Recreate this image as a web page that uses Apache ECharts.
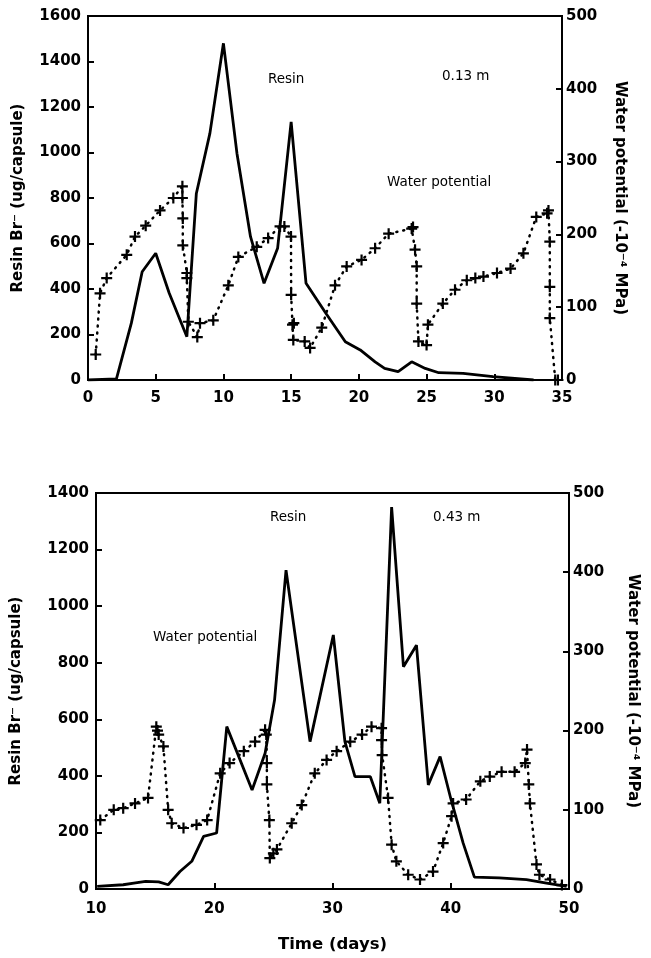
<!DOCTYPE html>
<html>
<head>
<meta charset="utf-8">
<script src="https://cdn.jsdelivr.net/npm/echarts@6/dist/echarts.min.js"></script>
<style>html,body{margin:0;padding:0;background:#fff;}#c{width:651px;height:958px;}</style>
</head>
<body>
<div id="c"></div>
<script>
// ---- Data: top panel (0.13 m) ----
var topResin = [[0,0],[2.1,5],[3.2,250],[4.0,476],[5.0,557],[6.0,381],[7.3,190],[8.0,820],[9.0,1084],[10.0,1480],[11.0,996],[12.0,630],[13.0,425],[14.0,579],[15.0,1135],[16.1,425],[17.6,290],[19.0,168],[20.1,132],[21.2,80],[21.9,51],[22.9,37],[23.9,80],[24.9,51],[25.9,32],[27.7,29],[29.9,15],[32.9,0]];
var topWater = [[0.57,35],[0.89,119],[1.38,140],[2.86,172],[3.47,197],[4.26,212],[5.32,233],[6.3,250],[6.97,266],[6.97,250],[7.0,222],[7.0,185],[7.3,147],[7.3,140],[7.41,80],[8.07,59],[8.27,78],[9.25,82],[10.36,130],[11.1,169],[12.46,183],[13.3,195],[14.18,211],[14.5,211],[14.99,197],[15.0,117],[15.1,76],[15.2,78],[15.16,55],[16.0,53],[16.4,44],[17.26,72],[18.24,130],[19.1,156],[20.2,165],[21.2,181],[22.2,201],[23.9,208],[24.0,210],[24.15,179],[24.27,156],[24.27,105],[24.4,53],[25.0,48],[25.1,76],[26.2,105],[27.1,124],[27.97,137],[28.6,140],[29.2,142],[30.2,147],[31.2,153],[32.15,174],[33.1,224],[33.9,229],[34.0,233],[34.1,190],[34.1,128],[34.1,85],[34.5,0],[34.7,0]];
// ---- Data: bottom panel (0.43 m) ----
var botResin = [[10.1,9],[12.3,15],[13.2,21],[14.2,27],[15.3,25],[16.1,15],[17.1,62],[18.1,98],[19.1,186],[20.2,198],[21.06,574],[23.2,350],[24.3,480],[25.1,668],[26.07,1127],[28.1,521],[30.07,898],[31.05,521],[31.9,397],[33.2,397],[34.0,303],[35.0,1350],[36.0,786],[37.1,862],[38.1,368],[39.1,468],[40.0,320],[41.05,162],[42.0,42],[44.1,39],[46.4,33],[48.1,21],[49.8,9]];
var botWater = [[10.36,87],[11.5,100],[12.3,102],[13.3,108],[14.4,115],[15.1,205],[15.2,200],[15.3,195],[15.7,180],[16.1,100],[16.4,83],[17.4,77],[18.5,81],[19.4,87],[20.5,146],[21.3,159],[22.5,174],[23.45,186],[24.3,201],[24.4,195],[24.45,159],[24.45,132],[24.66,87],[24.7,39],[25.0,45],[25.3,50],[26.55,83],[27.4,106],[28.5,146],[29.5,163],[30.35,174],[31.5,186],[32.5,195],[33.3,205],[34.15,203],[34.15,188],[34.2,169],[34.7,115],[35.0,56],[35.4,35],[36.4,18],[37.4,12],[38.5,22],[39.36,58],[40.07,92],[40.2,108],[41.3,113],[42.5,136],[43.3,142],[44.3,148],[45.4,148],[46.3,159],[46.45,176],[46.6,132],[46.7,108],[47.25,31],[47.5,18],[48.4,12],[49.4,5]];
// ---- Axis ticks / labels ----
var topX = {min:0, max:35, interval:5};
var topYL = {min:0, max:1600, interval:200};
var topYR = {min:0, max:500, interval:100};
var botX = {min:10, max:50, interval:10};
var botYL = {min:0, max:1400, interval:200};
var botYR = {min:0, max:500, interval:100};
var leftName = 'Resin Br\u207B (ug/capsule)';
var rightName = 'Water potential (-10\u207B\u2074 MPa)';
var xName = 'Time (days)';

var FONT = 'DejaVu Sans';
var plus = 'path://M4,0h2v4h4v2h-4v4h-2v-4h-4v-2h4z';
var tickLbl = {color:'#000', fontFamily:FONT, fontWeight:'bold', fontSize:15, formatter:function(v){return String(v);}};
var nameStyle = {color:'#000', fontFamily:FONT, fontWeight:'bold', fontSize:15};
function xAx(g, r, nm){
  return {gridIndex:g, type:'value', min:r.min, max:r.max, interval:r.interval,
    name:nm||'', nameLocation:'middle', nameGap:47,
    nameTextStyle:{color:'#000', fontFamily:FONT, fontWeight:'bold', fontSize:16.5},
    axisLine:{show:true, onZero:false, lineStyle:{color:'#000', width:2}},
    axisTick:{show:true, inside:true, length:6, lineStyle:{color:'#000', width:2}},
    axisLabel:Object.assign({margin:g===0?11:13}, tickLbl), splitLine:{show:false}};
}
function yAx(g, r, pos, nm, gap, rot){
  var o = {gridIndex:g, type:'value', position:pos, min:r.min, max:r.max, interval:r.interval,
    name:nm, nameLocation:'middle', nameGap:gap, nameTextStyle:nameStyle,
    axisLine:{show:true, lineStyle:{color:'#000', width:2}},
    axisTick:{show:true, inside:true, length:6, lineStyle:{color:'#000', width:2}},
    axisLabel:Object.assign({margin:pos==='right'?4:7}, tickLbl), splitLine:{show:false}};
  if (rot !== undefined) o.nameRotate = rot;
  return o;
}
function resinS(xi, yi, d){
  return {type:'line', xAxisIndex:xi, yAxisIndex:yi, data:d, showSymbol:false, symbol:'none',
    lineStyle:{color:'#000', width:2.8}, z:3};
}
function waterS(xi, yi, d){
  return {type:'line', xAxisIndex:xi, yAxisIndex:yi, data:d, symbol:plus, symbolSize:11,
    itemStyle:{color:'#000'}, lineStyle:{color:'#000', width:2.5, type:[1,6], cap:'round'}, z:4};
}
var chart = echarts.init(document.getElementById('c'), null, {renderer:'canvas'});
var txt = {fill:'#000', fontFamily:'DejaVu Sans', fontSize:13.5};
chart.setOption({
  animation:false,
  backgroundColor:'#fff',
  grid:[
    {left:88, top:16, width:474, height:364, show:true, borderColor:'#000', borderWidth:2},
    {left:96, top:493, width:473, height:396, show:true, borderColor:'#000', borderWidth:2}
  ],
  xAxis:[xAx(0, topX), xAx(1, botX, xName)],
  yAxis:[
    yAx(0, topYL, 'left', leftName, 62),
    yAx(0, topYR, 'right', rightName, 50, -90),
    yAx(1, botYL, 'left', leftName, 72),
    yAx(1, botYR, 'right', rightName, 56, -90)
  ],
  series:[
    resinS(0,0,topResin), waterS(0,1,topWater),
    resinS(1,2,botResin), waterS(1,3,botWater)
  ],
  graphic:[
    {type:'text', left:268, top:72, style:Object.assign({text:'Resin'}, txt)},
    {type:'text', left:442, top:69, style:Object.assign({text:'0.13 m'}, txt)},
    {type:'text', left:387, top:175, style:Object.assign({text:'Water potential'}, txt)},
    {type:'text', left:270, top:510, style:Object.assign({text:'Resin'}, txt)},
    {type:'text', left:433, top:510, style:Object.assign({text:'0.43 m'}, txt)},
    {type:'text', left:153, top:630, style:Object.assign({text:'Water potential'}, txt)}
  ]
});
</script>
</body>
</html>
